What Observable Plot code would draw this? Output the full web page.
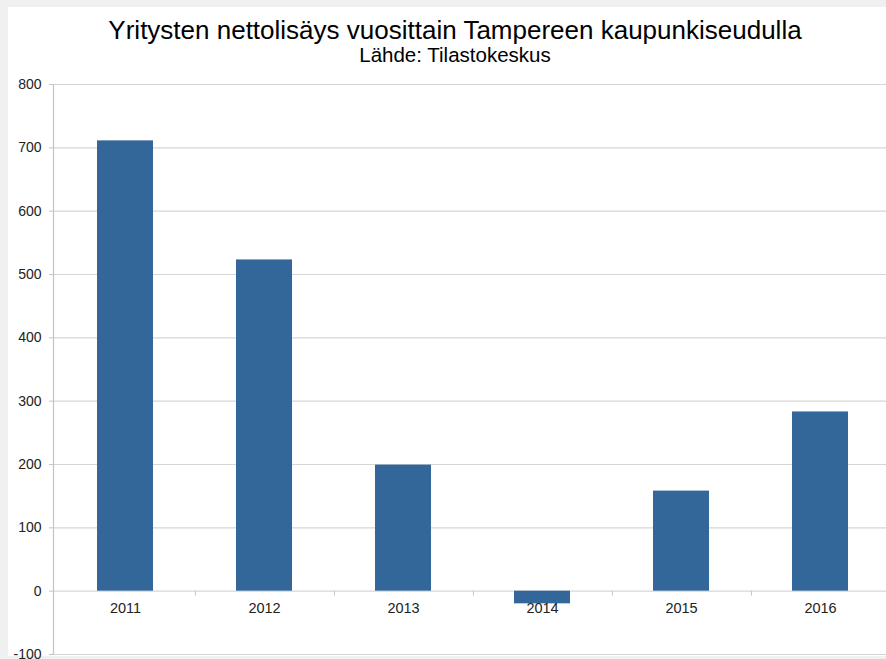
<!DOCTYPE html>
<html>
<head>
<meta charset="utf-8">
<script src="https://cdn.jsdelivr.net/npm/d3@7"></script>
<script src="https://cdn.jsdelivr.net/npm/@observablehq/plot@0.6"></script>
<style>
  html, body { margin: 0; padding: 0; width: 886px; height: 659px; overflow: hidden; background: #f0f0f0; }
  #panel { position: absolute; left: 8px; top: 7px; width: 900px; height: 649px; background: #fff; }
  #title { position: absolute; left: 0; width: 910px; top: 14px; text-align: center; font-family: "Liberation Sans", Arial, sans-serif; font-size: 26px; color: #000; line-height: 32px; }
  #subtitle { position: absolute; left: 0; width: 910px; top: 44px; text-align: center; font-family: "Liberation Sans", Arial, sans-serif; font-size: 20.5px; color: #000; line-height: 22px; }
  #chart { position: absolute; left: 0; top: 0; width: 900px; }
  #chart svg { max-width: none !important; }
</style>
</head>
<body>
<div id="panel"></div>
<div id="title">Yritysten nettolisäys vuosittain Tampereen kaupunkiseudulla</div>
<div id="subtitle">Lähde: Tilastokeskus</div>
<div id="chart"></div>
<script>
const years = ["2011", "2012", "2013", "2014", "2015", "2016"];
const values = [711, 523, 199, -20, 158, 283];
const yTicks = [-100, 0, 100, 200, 300, 400, 500, 600, 700, 800];

const data = years.map((year, i) => ({year, value: values[i]}));

const chart = Plot.plot({
  width: 892,
  height: 659,
  marginLeft: 53,
  marginRight: 0,
  marginTop: 84,
  marginBottom: 5,
  style: {background: "transparent", fontFamily: "'Liberation Sans', Arial, sans-serif", overflow: "visible", maxWidth: "none"},
  x: {domain: years, paddingInner: 0.6, paddingOuter: 0.3, align: 0.5, axis: null},
  y: {domain: [-100, 800], axis: null},
  marks: [
    Plot.gridY(yTicks, {stroke: "#d6d6d6", strokeOpacity: 1, strokeWidth: 1.2}),
    Plot.frame({anchor: "left", stroke: "#c4c4c4", strokeWidth: 1.2}),
    Plot.axisY(yTicks, {tickSize: 4, tickPadding: 8, stroke: "#c4c4c4", fill: "#222", fontSize: 14, anchor: "left", label: null, tickFormat: d => String(d)}),
    Plot.barY(data, {x: "year", y: "value", fill: "#336699"}),
    Plot.ruleX(years, {x: d => d, y1: 0, y2: 0, dx: 69.9, insetBottom: -5, stroke: "#c4c4c4"}),
    Plot.text(data, {x: "year", y: 0, text: "year", dy: 17, fontSize: 14.5, fill: "#222"})
  ]
});
document.getElementById("chart").appendChild(chart);
</script>
</body>
</html>
